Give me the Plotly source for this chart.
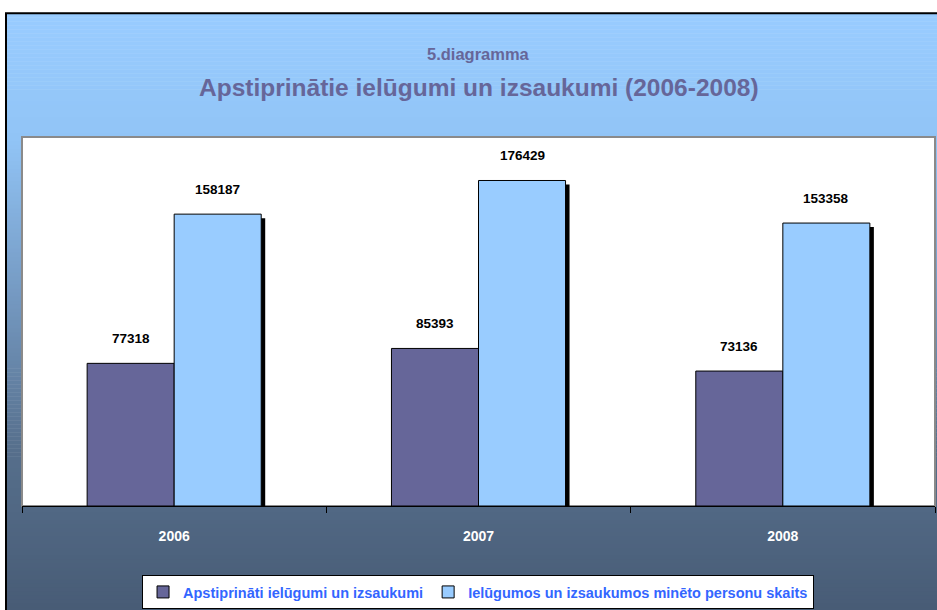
import plotly.graph_objects as go

years = ["2006", "2007", "2008"]
approved = [77318, 85393, 73136]
persons = [158187, 176429, 153358]
series_names = ["Apstiprināti ielūgumi un izsaukumi",
                "Ielūgumos un izsaukumos minēto personu skaits"]
subtitle = "5.diagramma"
title = "Apstiprinātie ielūgumi un izsaukumi (2006-2008)"

W, H = 937, 610
ML, MR, MT, MB = 22, 2, 137, 103
PW, PH = W - ML - MR, H - MT - MB
YMAX = 200000
FONT = "Liberation Sans, Arial, sans-serif"

BW = 0.286
shadow_drop = YMAX / PH * 4
shadow_dx = 4 / PW * 3

fig = go.Figure()
fig.add_bar(x=years, y=[v - shadow_drop for v in persons], offset=shadow_dx, width=BW,
            marker=dict(color="black", line=dict(width=0)), showlegend=False, hoverinfo="skip")
fig.add_bar(x=years, y=approved, name=series_names[0], offset=-BW, width=BW,
            marker=dict(color="#666699", line=dict(color="black", width=1)))
fig.add_bar(x=years, y=persons, name=series_names[1], offset=0, width=BW,
            marker=dict(color="#99CCFF", line=dict(color="black", width=1)))

annotations = []
for i, (a, p) in enumerate(zip(approved, persons)):
    for xv, v in ((i - BW / 2, a), (i + BW / 2, p)):
        annotations.append(dict(x=xv, y=v, xref="x", yref="y", text=f"<b>{v}</b>",
                                showarrow=False, yshift=25,
                                font=dict(family=FONT, size=13.5, color="black")))
annotations.append(dict(x=0.5, y=(MT - 54) / PH + 1, xref="paper", yref="paper",
                        yanchor="middle", text=f"<b>{subtitle}</b>", showarrow=False,
                        font=dict(family=FONT, size=16.5, color="#666699")))
annotations.append(dict(x=0.5, y=(MT - 87) / PH + 1, xref="paper", yref="paper",
                        yanchor="middle", text=f"<b>{title}</b>", showarrow=False,
                        font=dict(family=FONT, size=24.5, color="#666699")))

# background gradient (styling)
stops = [(13, (153, 204, 255)), (140, (145, 196, 246)), (300, (116, 152, 192)),
         (450, (86, 111, 140)), (610, (72, 92, 118))]

def col(y):
    for (y0, c0), (y1, c1) in zip(stops, stops[1:]):
        if y0 <= y <= y1:
            t = (y - y0) / (y1 - y0)
            return "rgb(%d,%d,%d)" % tuple(round(c0[k] + (c1[k] - c0[k]) * t) for k in range(3))
    return "rgb(%d,%d,%d)" % stops[-1][1]

def py(ypx):
    return (H - MB - ypx) / PH

def px(xpx):
    return (xpx - ML) / PW

shapes = []
step = 4
ypx = 13
while ypx < H:
    shapes.append(dict(type="rect", xref="paper", yref="paper", layer="below",
                       x0=px(6), x1=px(W + 5), y0=py(ypx + step + 0.5), y1=py(ypx),
                       fillcolor=col(ypx + step / 2), line=dict(width=0)))
    ypx += step
shapes.append(dict(type="rect", xref="paper", yref="paper", layer="below",
                   x0=px(6), x1=px(W + 10), y0=py(H + 10), y1=py(13),
                   fillcolor="rgba(0,0,0,0)", line=dict(color="black", width=2)))
shapes.append(dict(type="rect", xref="paper", yref="paper", layer="below",
                   x0=0, x1=1, y0=0, y1=1, fillcolor="white",
                   line=dict(color="#8a8a8a", width=2)))

fig.update_layout(
    width=W, height=H, margin=dict(l=ML, r=MR, t=MT, b=MB),
    paper_bgcolor="white", plot_bgcolor="rgba(0,0,0,0)",
    barmode="overlay", shapes=shapes, annotations=annotations,
    font=dict(family=FONT),
    legend=dict(orientation="h", x=0.4995, xanchor="center", y=py(575), yanchor="top",
                bgcolor="white", bordercolor="black", borderwidth=1,
                font=dict(family=FONT, size=14.5, color="#3366FF", weight="bold"),
                itemwidth=30, tracegroupgap=0),
    xaxis=dict(type="category", range=[-0.5, 2.5], showgrid=False, showline=True,
               linecolor="black", linewidth=1, ticks="outside", tickson="boundaries",
               ticklen=6, tickcolor="black", ticklabelstandoff=17,
               tickfont=dict(family=FONT, size=14, color="white", weight="bold"),
               zeroline=False),
    yaxis=dict(range=[0, YMAX], visible=False, showgrid=False, zeroline=False),
)

fig.write_html("out.html", config={"displayModeBar": False},
               post_script="document.body.style.margin='0px';document.body.style.overflow='hidden';")
